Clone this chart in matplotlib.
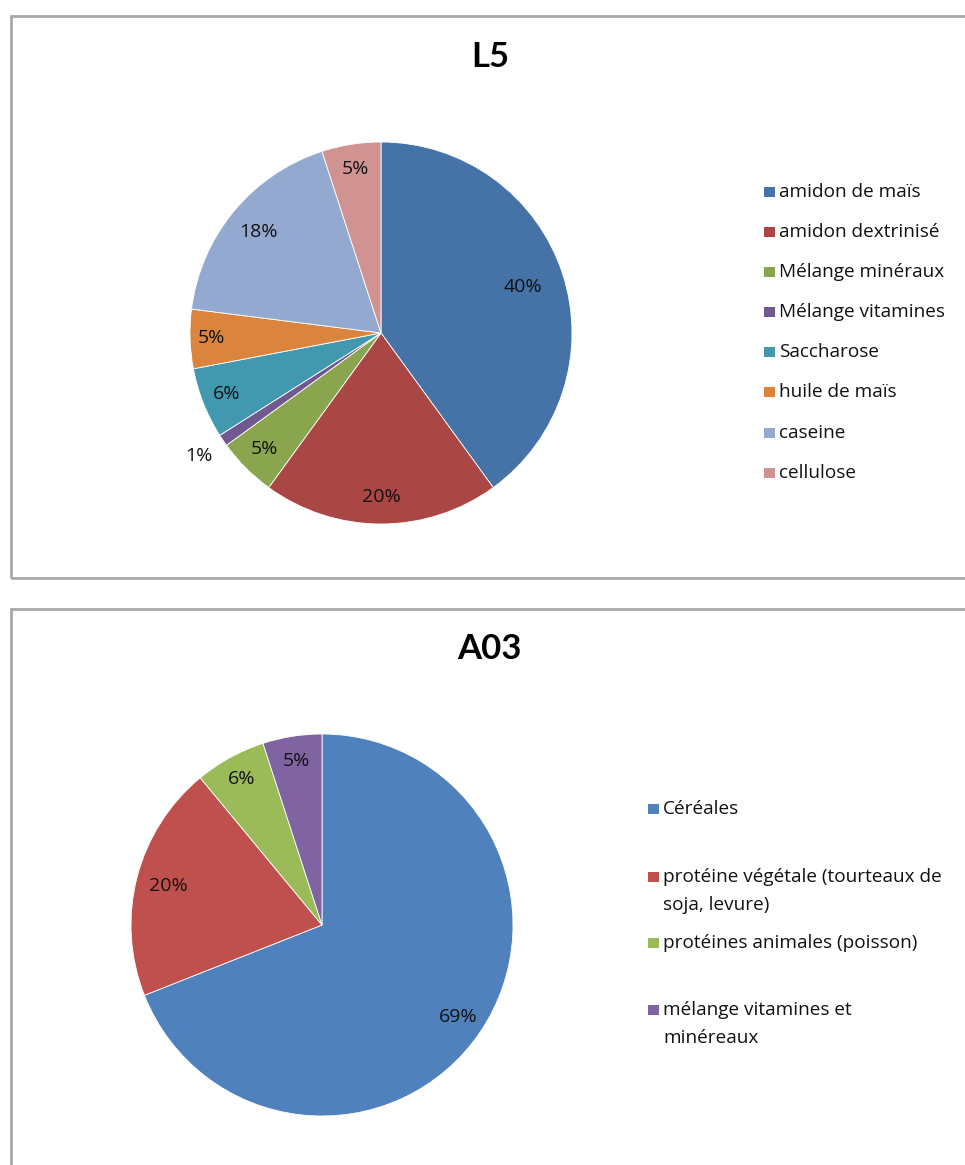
import numpy as np
import matplotlib.pyplot as plt
from matplotlib.patches import Rectangle

W, H = 965, 1165

# L5 diet composition (%)
l5_labels = ['amidon de maïs', 'amidon dextrinisé', 'Mélange minéraux', 'Mélange vitamines',
             'Saccharose', 'huile de maïs', 'caseine', 'cellulose']
l5_values = [40, 20, 5, 1, 6, 5, 18, 5]
l5_colors = ['#4572A7', '#AA4643', '#89A54E', '#71588F', '#4198AF', '#DB843D', '#93A9CF', '#D19392']

# A03 feed composition (%)
a03_labels = ['Céréales', 'protéine végétale (tourteaux de\nsoja, levure)',
              'protéines animales (poisson)', 'mélange vitamines et\nminéreaux']
a03_values = [69, 20, 6, 5]
a03_colors = ['#4F81BD', '#C0504D', '#9BBB59', '#8064A2']

fig = plt.figure(figsize=(W / 100, H / 100), dpi=100)
fig.patch.set_facecolor('white')


def fx(x):
    return x / W


def fy(y):
    return 1 - y / H


def frame(top, bottom):
    # chart area border, runs off the page on the right
    fig.add_artist(Rectangle((fx(10.5), fy(bottom)), fx(1000), (bottom - top) / H,
                             fill=False, edgecolor='#A8A8A8', linewidth=2))


def draw_pie(cx, cy, r, values, colors, dists):
    ax = fig.add_axes([fx(cx - r), fy(cy + r), 2 * r / W, 2 * r / H])
    wedges, _ = ax.pie(values, colors=colors, startangle=90, counterclock=False,
                       wedgeprops=dict(edgecolor='white', linewidth=0.6))
    ax.set_xlim(-1, 1)
    ax.set_ylim(-1, 1)
    ax.axis('off')
    for w, v, d in zip(wedges, values, dists):
        a = np.deg2rad((w.theta1 + w.theta2) / 2)
        ax.text(d * np.cos(a), d * np.sin(a), f'{v}%', ha='center', va='center',
                fontsize=14, family='Open Sans', color='#111111')
    return ax


def legend(x, rows, labels, colors, step=28):
    for y, lab, c in zip(rows, labels, colors):
        fig.add_artist(Rectangle((fx(x), fy(y + 5)), 11 / W, 10 / H,
                                 facecolor=c, edgecolor='none'))
        # one text per line so the marker sits beside the first line
        for i, line in enumerate(lab.split('\n')):
            fig.text(fx(x + 15), fy(y + i * step), line, ha='left', va='center',
                     fontsize=13.7, family='Open Sans', color='#111111')


# top chart
frame(16, 578)
fig.text(fx(490), fy(57), 'L5', ha='center', va='center', fontsize=25,
         family='Lato', fontweight='bold')
draw_pie(381, 333, 191, l5_values, l5_colors, [0.78, 0.86, 0.86, 1.15, 0.87, 0.89, 0.83, 0.87])
legend(764, [192, 232, 272, 312, 352, 392, 433, 473], l5_labels, l5_colors)

# bottom chart
frame(609, 1200)
fig.text(fx(489), fy(649), 'A03', ha='center', va='center', fontsize=25,
         family='Lato', fontweight='bold')
draw_pie(322, 925, 191, a03_values, a03_colors, [0.86, 0.83, 0.87, 0.87])
legend(648, [809, 877, 943, 1010], a03_labels, a03_colors)

fig.savefig('out.png', dpi=100)
